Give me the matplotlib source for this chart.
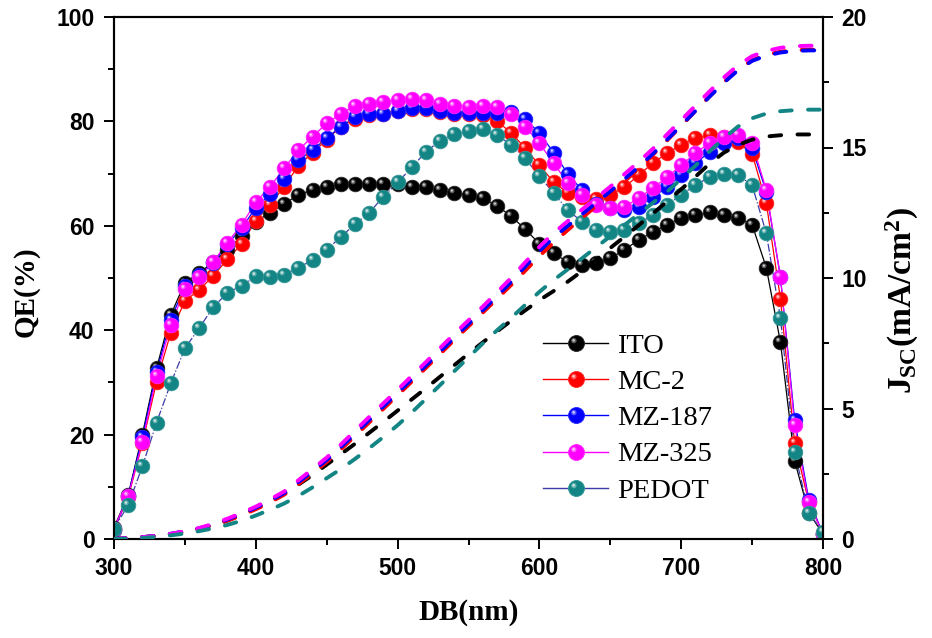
import numpy as np
import matplotlib
matplotlib.use("Agg")
import matplotlib.pyplot as plt
from matplotlib.path import Path
from matplotlib.markers import MarkerStyle
from matplotlib.lines import Line2D
from matplotlib.legend_handler import HandlerTuple
from matplotlib.ticker import MultipleLocator
import matplotlib.colors as mcolors

# ---------------- data ----------------
wavelength = list(range(300, 801, 10))

qe_ito = [2.2, 8.4, 20.0, 32.7, 42.9, 49.1, 51.0, 53.0, 55.4, 58.0,
          60.8, 62.5, 64.2, 65.9, 66.9, 67.5, 68.0, 68.0, 68.0, 68.1,
          68.0, 67.5, 67.4, 66.9, 66.2, 65.9, 65.3, 63.8, 61.9, 59.3,
          56.6, 54.7, 53.1, 52.5, 52.9, 53.8, 55.4, 57.3, 58.8, 60.2,
          61.5, 62.0, 62.6, 62.0, 61.5, 60.2, 52.0, 37.7, 15.0, 5.0, 1.0]
qe_mc2 = [1.8, 8.0, 18.3, 30.1, 39.5, 45.6, 47.7, 50.4, 53.6, 56.5,
          61.0, 64.0, 67.5, 71.5, 74.0, 76.5, 79.0, 80.5, 81.3, 81.5,
          82.0, 82.3, 82.3, 81.8, 81.5, 81.5, 81.3, 80.1, 77.8, 74.9,
          71.6, 68.4, 66.3, 65.5, 65.2, 65.9, 67.4, 69.7, 72.0, 73.9,
          75.5, 76.8, 77.4, 77.0, 76.0, 73.8, 64.4, 46.0, 18.4, 7.0, 1.0]
qe_mz187 = [1.8, 8.3, 19.5, 32.0, 42.0, 48.5, 50.5, 52.8, 56.5, 59.5,
            63.5, 66.0, 69.0, 72.6, 74.5, 76.8, 79.0, 80.8, 81.5, 81.5,
            82.0, 82.5, 82.6, 81.9, 81.7, 81.7, 81.7, 81.7, 81.8, 80.4,
            77.8, 74.0, 70.0, 66.8, 64.2, 63.4, 63.0, 63.6, 65.5, 67.4,
            69.7, 72.0, 74.1, 75.9, 76.8, 74.9, 66.5, 50.2, 22.8, 7.5, 1.0]
qe_mz325 = [2.0, 8.2, 18.6, 31.2, 41.0, 47.8, 50.2, 53.1, 56.8, 60.2,
            64.5, 67.5, 71.0, 74.5, 77.1, 79.6, 81.5, 83.0, 83.4, 83.8,
            84.1, 84.2, 84.1, 83.3, 83.0, 82.7, 83.0, 82.7, 81.5, 79.0,
            75.8, 72.0, 68.2, 65.9, 64.0, 63.4, 63.6, 65.3, 67.2, 69.3,
            71.6, 73.9, 75.9, 77.0, 77.4, 75.9, 66.9, 50.2, 21.8, 7.0, 1.0]
qe_pedot = [2.0, 6.5, 13.9, 22.3, 29.8, 36.5, 40.4, 44.4, 47.2, 48.5,
            50.3, 50.2, 50.6, 52.0, 53.4, 55.4, 57.9, 60.3, 62.5, 65.6,
            68.3, 71.2, 74.2, 76.3, 77.6, 78.2, 78.5, 77.4, 75.5, 72.9,
            69.5, 66.3, 63.0, 60.8, 59.2, 58.8, 59.2, 60.5, 62.0, 64.0,
            65.9, 67.8, 69.3, 69.9, 69.7, 67.8, 58.6, 42.3, 16.7, 5.0, 1.3]

jsc_ito = [0.0, 0.03, 0.07, 0.12, 0.19, 0.28, 0.39, 0.53, 0.71, 0.93,
           1.18, 1.45, 1.75, 2.08, 2.45, 2.85, 3.25, 3.65, 4.07, 4.49,
           4.92, 5.35, 5.78, 6.22, 6.66, 7.1, 7.53, 7.95, 8.36, 8.76,
           9.15, 9.5, 9.86, 10.26, 10.7, 11.15, 11.58, 12.02, 12.47, 12.93,
           13.4, 13.88, 14.38, 14.8, 15.1, 15.3, 15.42, 15.47, 15.5, 15.5, 15.5]
jsc_mc2 = [0.0, 0.03, 0.07, 0.11, 0.18, 0.27, 0.38, 0.52, 0.7, 0.91,
           1.14, 1.4, 1.7, 2.1, 2.52, 2.95, 3.43, 3.95, 4.47, 4.99,
           5.51, 6.03, 6.56, 7.09, 7.63, 8.15, 8.67, 9.2, 9.73, 10.28,
           10.84, 11.36, 11.84, 12.3, 12.76, 13.22, 13.7, 14.2, 14.72, 15.27,
           15.83, 16.4, 16.96, 17.5, 17.98, 18.34, 18.55, 18.67, 18.73, 18.75, 18.75]
jsc_mz187 = [0.0, 0.03, 0.07, 0.12, 0.2, 0.29, 0.41, 0.56, 0.75, 0.97,
             1.2, 1.47, 1.76, 2.18, 2.6, 3.03, 3.52, 4.04, 4.56, 5.08,
             5.6, 6.12, 6.65, 7.18, 7.72, 8.24, 8.76, 9.3, 9.85, 10.44,
             11.03, 11.55, 12.0, 12.44, 12.88, 13.32, 13.79, 14.26, 14.76, 15.3,
             15.85, 16.4, 16.95, 17.48, 17.96, 18.32, 18.52, 18.64, 18.7, 18.72, 18.72]
jsc_mz325 = [0.0, 0.03, 0.07, 0.12, 0.2, 0.3, 0.42, 0.58, 0.78, 1.0,
             1.24, 1.52, 1.82, 2.25, 2.68, 3.12, 3.62, 4.15, 4.68, 5.2,
             5.72, 6.25, 6.78, 7.32, 7.86, 8.38, 8.9, 9.45, 10.0, 10.6,
             11.2, 11.72, 12.18, 12.62, 13.06, 13.5, 13.98, 14.45, 14.95, 15.5,
             16.05, 16.6, 17.15, 17.68, 18.15, 18.5, 18.7, 18.82, 18.88, 18.9, 18.9]
jsc_pedot = [0.0, 0.01, 0.04, 0.08, 0.14, 0.21, 0.3, 0.41, 0.54, 0.7,
             0.9, 1.12, 1.36, 1.65, 1.98, 2.33, 2.68, 3.07, 3.48, 3.91,
             4.36, 4.85, 5.37, 5.9, 6.43, 6.96, 7.49, 7.99, 8.47, 8.97,
             9.47, 9.92, 10.33, 10.75, 11.18, 11.6, 12.03, 12.45, 12.88, 13.3,
             13.8, 14.3, 14.85, 15.35, 15.8, 16.12, 16.3, 16.39, 16.43, 16.45, 16.45]

labels = ["ITO", "MC-2", "MZ-187", "MZ-325", "PEDOT"]
colors = ["#000000", "#ff0000", "#0000ff", "#ff00ff", "#138585"]
line_colors = ["#000000", "#ff0000", "#0000ff", "#ff00ff", "#3a3aa8"]
qe_series = [qe_ito, qe_mc2, qe_mz187, qe_mz325, qe_pedot]
jsc_series = [jsc_ito, jsc_mc2, jsc_mz187, jsc_mz325, jsc_pedot]

# ---------------- style ----------------
plt.rcParams['mathtext.fontset'] = 'custom'
plt.rcParams['mathtext.rm'] = 'Liberation Serif:bold'
plt.rcParams['mathtext.bf'] = 'Liberation Serif:bold'
plt.rcParams['mathtext.it'] = 'Liberation Serif:bold'


def offset_circle_marker(cx, cy, r):
    circ = Path.circle(center=(cx, cy), radius=r)
    verts = np.vstack([[[1.0, 0.0]], [[-1.0, 0.0]], circ.vertices])
    codes = np.concatenate([[Path.MOVETO, Path.MOVETO], circ.codes])
    return MarkerStyle(Path(verts, codes))


hl_marker = offset_circle_marker(-0.33, 0.36, 0.34)
hl_marker2 = offset_circle_marker(-0.36, 0.40, 0.16)


def lighten(c, f):
    r = np.array(mcolors.to_rgb(c))
    return tuple(r + (1 - r) * f)


fig = plt.figure(figsize=(9.32, 6.38), dpi=100)
ax = fig.add_axes([114 / 932, (638 - 539) / 638, (823 - 114) / 932, (539 - 17) / 638])
ax2 = ax.twinx()

MS = 10.5
handles = []
for lab, c, lc, qe in zip(labels, colors, line_colors, qe_series):
    ls = '-.' if lab == 'PEDOT' else '-'
    ax.plot(wavelength, qe, color=lc, lw=0.9, ls=ls, zorder=2)
    ax.plot(wavelength, qe, ls='none', marker='o', ms=MS, mfc=c, mec=lighten(c, 0.15),
            mew=0.6, zorder=3)
    ax.plot(wavelength, qe, ls='none', marker=hl_marker, ms=MS, mfc=lighten(c, 0.35),
            mec='none', zorder=3)
    ax.plot(wavelength, qe, ls='none', marker=hl_marker2, ms=MS, mfc=lighten(c, 0.8),
            mec='none', zorder=3)
    h1 = Line2D([], [], color=lc, lw=1.0, marker='o', ms=MS + 1, mfc=c,
                mec=lighten(c, 0.15), mew=0.6)
    h2 = Line2D([], [], ls='none', marker=hl_marker, ms=MS + 1, mfc=lighten(c, 0.35), mec='none')
    h3 = Line2D([], [], ls='none', marker=hl_marker2, ms=MS + 1, mfc=lighten(c, 0.8), mec='none')
    handles.append((h1, h2, h3))

for lab, c, j in zip(labels, colors, jsc_series):
    ax2.plot(wavelength, j, color=c, lw=2.8, ls=(0, (3.0, 4.2)), dash_capstyle='round',
             zorder=4)

ax.set_xlim(300, 800)
ax.set_ylim(0, 100)
ax2.set_ylim(0, 20)

ax.xaxis.set_major_locator(MultipleLocator(100))
ax.xaxis.set_minor_locator(MultipleLocator(50))
ax.yaxis.set_major_locator(MultipleLocator(20))
ax.yaxis.set_minor_locator(MultipleLocator(10))
ax2.yaxis.set_major_locator(MultipleLocator(5))
ax2.yaxis.set_minor_locator(MultipleLocator(2.5))

for a in (ax, ax2):
    for s in a.spines.values():
        s.set_linewidth(1.5)
ax.tick_params(axis='both', which='major', direction='out', length=7, width=1.4, pad=6,
               top=False)
ax.tick_params(axis='both', which='minor', direction='out', length=4, width=1.4, top=False)
ax.tick_params(axis='y', which='major', pad=7)
ax2.tick_params(axis='y', which='major', direction='out', length=7, width=1.4, pad=6)
ax2.tick_params(axis='y', which='minor', direction='out', length=4, width=1.4)

for lbl in ax.get_xticklabels() + ax.get_yticklabels() + ax2.get_yticklabels():
    lbl.set_fontfamily('Liberation Sans')
    lbl.set_fontweight('bold')
    lbl.set_fontsize(16.5)

ax.set_xlabel('DB(nm)', family='Liberation Serif', weight='bold', fontsize=21, labelpad=14)
ax.set_ylabel('QE(%)', family='Liberation Serif', weight='bold', fontsize=21)
ax.yaxis.set_label_coords((40 - 114) / 709, (539 - 292) / 522)
ax2.set_ylabel(r'$\mathrm{J_{SC}(mA/cm^{2})}$', fontsize=24, rotation=90)
ax2.yaxis.set_label_coords((884 - 114) / 709, (539 - 300) / 522)

leg = ax2.legend(handles, labels, handler_map={tuple: HandlerTuple(ndivide=1, pad=0)},
                 loc='upper left', bbox_to_anchor=((543 - 114) / 709, (539 - 333) / 522),
                 frameon=False, prop=dict(family='Liberation Serif', size=20.5),
                 handlelength=2.3, handletextpad=0.3, labelspacing=0.36, borderaxespad=0,
                 borderpad=0)
leg.set_zorder(10)

fig.savefig('out.png', dpi=100)
